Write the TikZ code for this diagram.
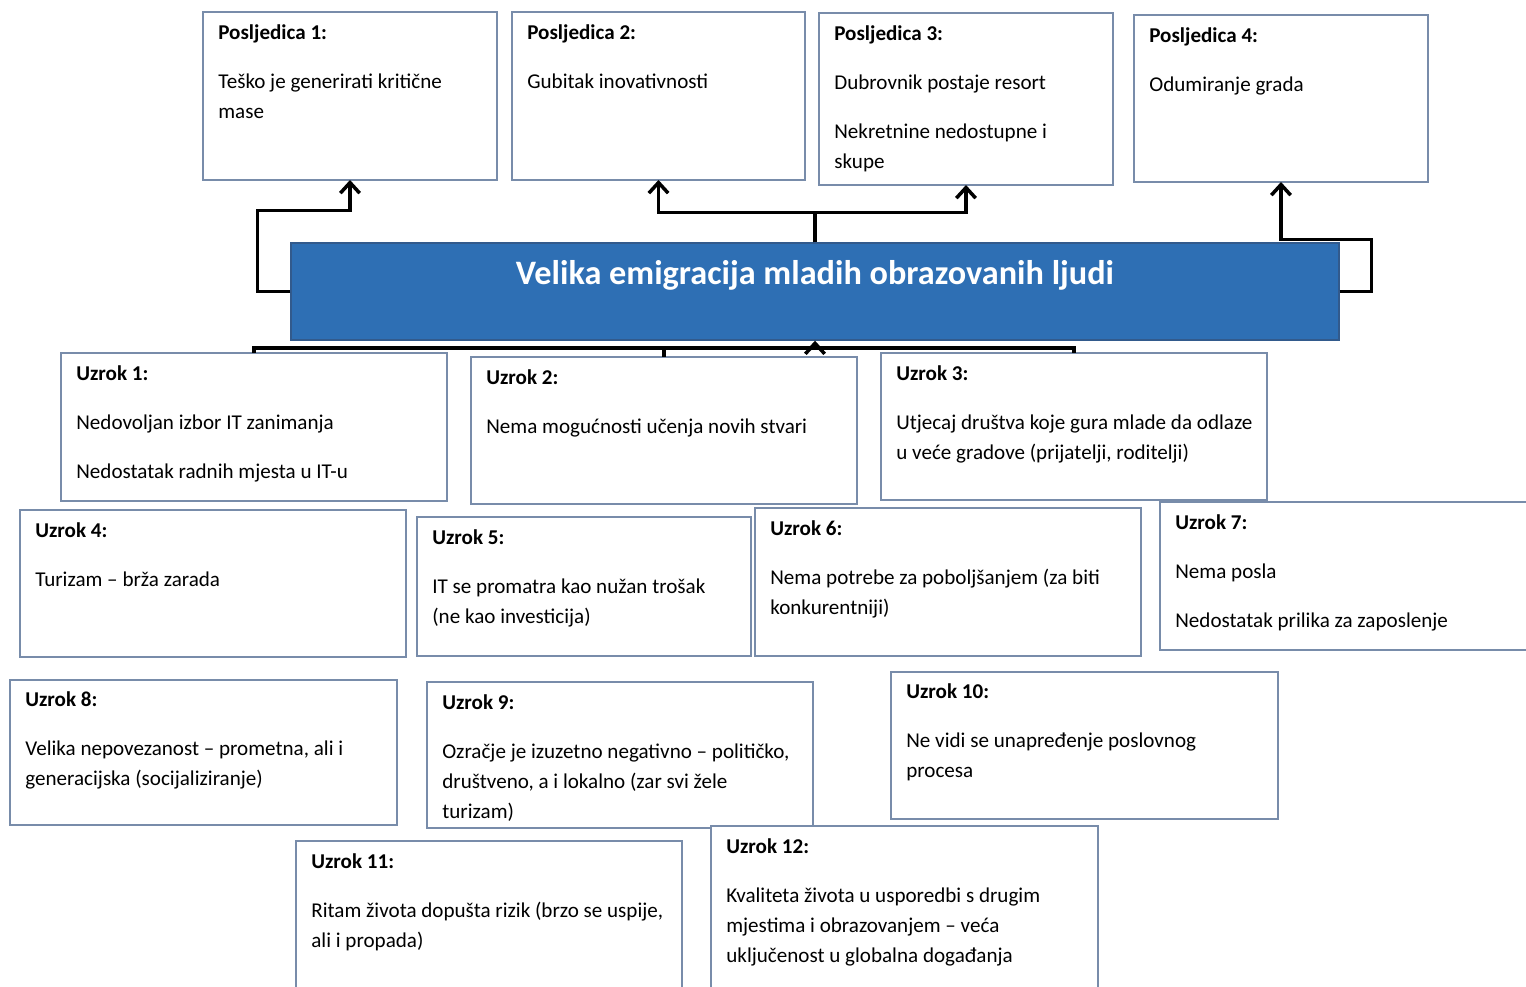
\documentclass[tikz,border=0pt]{standalone}
\usepackage{fontspec}
\setmainfont{Carlito}
\usepackage{tikz}
\usetikzlibrary{shadows,arrows.meta,fit,calc,positioning}
\definecolor{boxline}{RGB}{120,140,170}
\definecolor{titleblue}{RGB}{46,111,180}
\definecolor{titleline}{RGB}{50,90,140}

\begin{document}
\begin{tikzpicture}[x=0.02cm, y=-0.02cm]
\tikzstyle{box}=[draw=boxline, line width=0.9pt, fill=white, inner sep=0pt, outer sep=0pt,
  drop shadow={shadow xshift=0.6pt, shadow yshift=-0.8pt, opacity=0.25}]
\tikzstyle{txt}=[anchor=north west, inner sep=0pt, align=left, font=\fontsize{12}{17}\selectfont]
\tikzstyle{conn}=[line width=2pt, black]
\tikzstyle{arrow}=[conn, -{Straight Barb[length=6pt,width=11pt,line width=2pt]}]

\useasboundingbox (0,0) rectangle (1526,987);
\clip (0,0) rectangle (1526,987);

% consequences
\node [box, fit={(203,12) (497,180)}] (p1) {};
\node [txt] (p1t) at ([shift={(15,12)}]p1.north west) {\textbf{Posljedica 1:}\\[11pt] Teško je generirati kritične\\ mase};
\node [box, fit={(512,12) (805,180)}] (p2) {};
\node [txt] (p2t) at ([shift={(15,12)}]p2.north west) {\textbf{Posljedica 2:}\\[11pt] Gubitak inovativnosti};
\node [box, fit={(819,13) (1113,185)}] (p3) {};
\node [txt] (p3t) at ([shift={(15,12)}]p3.north west) {\textbf{Posljedica 3:}\\[11pt] Dubrovnik postaje resort\\[11pt] Nekretnine nedostupne i\\ skupe};
\node [box, fit={(1134,15) (1428,182)}] (p4) {};
\node [txt] (p4t) at ([shift={(15,12)}]p4.north west) {\textbf{Posljedica 4:}\\[11pt] Odumiranje grada};

% main problem
\node [draw=titleline, line width=0.8pt, fill=titleblue, inner sep=0pt, fit={(291,243) (1339,340)}] (main) {};
\node [text=white, font=\fontsize{19.5}{22}\selectfont\bfseries] (maint) at (815,275) {Velika emigracija mladih obrazovanih ljudi};

% causes
\node [box, fit={(61,353) (447,501)}] (u1) {};
\node [txt] (u1t) at ([shift={(15,12)}]u1.north west) {\textbf{Uzrok 1:}\\[11pt] Nedovoljan izbor IT zanimanja\\[11pt] Nedostatak radnih mjesta u IT-u};
\node [box, fit={(471,357) (857,504)}] (u2) {};
\node [txt] (u2t) at ([shift={(15,12)}]u2.north west) {\textbf{Uzrok 2:}\\[11pt] Nema mogućnosti učenja novih stvari};
\node [box, fit={(881,353) (1267,500)}] (u3) {};
\node [txt] (u3t) at ([shift={(15,12)}]u3.north west) {\textbf{Uzrok 3:}\\[11pt] Utjecaj društva koje gura mlade da odlaze\\ u veće gradove (prijatelji, roditelji)};
\node [box, fit={(1160,502) (1545,650)}] (u7) {};
\node [txt] (u7t) at ([shift={(15,12)}]u7.north west) {\textbf{Uzrok 7:}\\[11pt] Nema posla\\[11pt] Nedostatak prilika za zaposlenje};
\node [box, fit={(20,510) (406,657)}] (u4) {};
\node [txt] (u4t) at ([shift={(15,12)}]u4.north west) {\textbf{Uzrok 4:}\\[11pt] Turizam -- brža zarada};
\node [box, fit={(417,517) (751,656)}] (u5) {};
\node [txt] (u5t) at ([shift={(15,12)}]u5.north west) {\textbf{Uzrok 5:}\\[11pt] IT se promatra kao nužan trošak\\ (ne kao investicija)};
\node [box, fit={(755,508) (1141,656)}] (u6) {};
\node [txt] (u6t) at ([shift={(15,12)}]u6.north west) {\textbf{Uzrok 6:}\\[11pt] Nema potrebe za poboljšanjem (za biti\\ konkurentniji)};
\node [box, fit={(10,680) (397,825)}] (u8) {};
\node [txt] (u8t) at ([shift={(15,11)}]u8.north west) {\textbf{Uzrok 8:}\\[11pt] Velika nepovezanost -- prometna, ali i\\ generacijska (socijaliziranje)};
\node [box, fit={(427,682) (813,828)}] (u9) {};
\node [txt] (u9t) at ([shift={(15,12)}]u9.north west) {\textbf{Uzrok 9:}\\[11pt] Ozračje je izuzetno negativno -- političko,\\ društveno, a i lokalno (zar svi žele\\ turizam)};
\node [box, fit={(891,672) (1278,819)}] (u10) {};
\node [txt] (u10t) at ([shift={(15,11)}]u10.north west) {\textbf{Uzrok 10:}\\[11pt] Ne vidi se unapređenje poslovnog\\ procesa};
\node [box, fit={(296,841) (682,1000)}] (u11) {};
\node [txt] (u11t) at ([shift={(15,12)}]u11.north west) {\textbf{Uzrok 11:}\\[11pt] Ritam života dopušta rizik (brzo se uspije,\\ ali i propada)};
\node [box, fit={(711,826) (1098,1000)}] (u12) {};
\node [txt] (u12t) at ([shift={(15,12)}]u12.north west) {\textbf{Uzrok 12:}\\[11pt] Kvaliteta života u usporedbi s drugim\\ mjestima i obrazovanjem -- veća\\ uključenost u globalna događanja};

% connectors to consequences
\draw [arrow] (main.west) -- ++(-33,0) -- ++(0,-81) -| (p1.south);
\draw [arrow] (main.north) -- ++(0,-30) -| (p2.south);
\draw [arrow] (main.north) -- ++(0,-30) -| (p3.south);
\draw [arrow] (main.east) -- ++(32,0) -- ++(0,-52) -| (p4.south);

% connectors from causes
\draw [conn] (u1.north) -- ++(0,-5) -| (u3.north);
\draw [conn] (u2.north) -- ++(0,-9);
\coordinate (join) at (main.south |- 0,348);
\draw [arrow] (join) -- (main.south);

\end{tikzpicture}
\end{document}
